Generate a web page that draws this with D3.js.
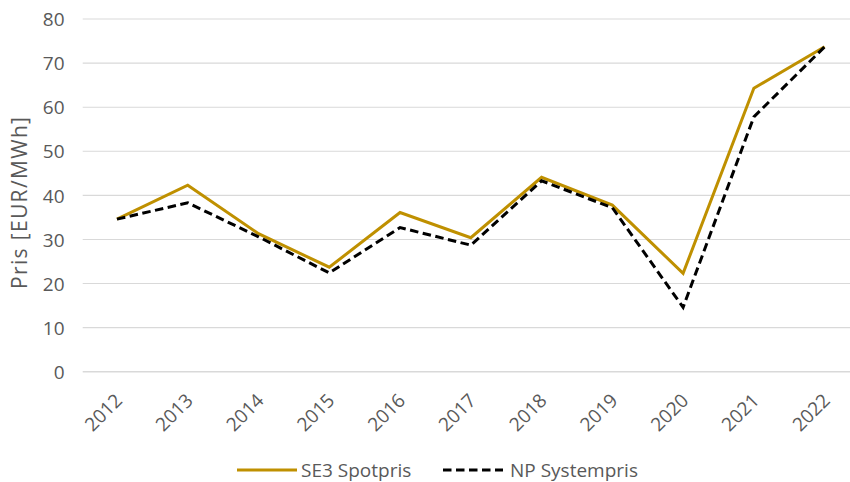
<!DOCTYPE html>
<html>
<head>
<meta charset="utf-8">
<script src="https://cdn.jsdelivr.net/npm/d3@7"></script>
<style>
  html, body { margin: 0; padding: 0; background: #fff; }
  svg { display: block; }
  text { font-family: "Open Sans", Lato, sans-serif; fill: #595959; }
</style>
</head>
<body>
<svg id="chart" width="850" height="482"></svg>
<script>
// Annual average electricity prices, EUR/MWh
const years = ["2012", "2013", "2014", "2015", "2016", "2017", "2018", "2019", "2020", "2021", "2022"];
const se3Spot = [34.6, 42.3, 31.3, 23.7, 36.1, 30.4, 44.1, 37.8, 22.3, 64.3, 73.7];
const npSystem = [34.6, 38.3, 30.6, 22.4, 32.7, 28.7, 43.3, 37.2, 14.6, 57.8, 73.7];
const yTicks = [0, 10, 20, 30, 40, 50, 60, 70, 80];

const seriesNames = ["SE3 Spotpris", "NP Systempris"];
const seriesColors = ["#BF9000", "#000000"];
const dashPattern = "8.5,4.5";
const fontSize = "19px";

const svg = d3.select("#chart");

const plot = { left: 81.6, right: 860, top: 19, bottom: 371.7 };

const x = d3.scalePoint()
  .domain(years)
  .range([plot.left, plot.right])
  .padding(0.5);

const y = d3.scaleLinear()
  .domain([0, 80])
  .range([plot.bottom, plot.top]);

// Horizontal gridlines
svg.append("g")
  .selectAll("line")
  .data(yTicks)
  .join("line")
  .attr("x1", 82.7)
  .attr("x2", 850)
  .attr("y1", d => y(d))
  .attr("y2", d => y(d))
  .attr("stroke", "#d9d9d9")
  .attr("stroke-width", d => d === 0 ? 1.5 : 1.1);

// Y axis tick labels
const yAxis = d3.axisLeft(y).tickValues(yTicks).tickSize(0).tickPadding(0);
const yG = svg.append("g")
  .attr("transform", "translate(64.5,0)")
  .call(yAxis);
yG.select(".domain").remove();
yG.selectAll("text")
  .attr("font-size", fontSize)
  .attr("fill", "#595959")
  .attr("dy", "0.35em")
  .style("font-family", "'Open Sans', Lato, sans-serif");

// X axis tick labels, rotated
const xAxis = d3.axisBottom(x).tickSize(0).tickPadding(0);
const xG = svg.append("g")
  .attr("transform", `translate(0,${plot.bottom})`)
  .call(xAxis);
xG.select(".domain").remove();
xG.selectAll("text")
  .attr("font-size", fontSize)
  .attr("fill", "#595959")
  .style("font-family", "'Open Sans', Lato, sans-serif")
  .attr("text-anchor", "end")
  .attr("dy", null)
  .attr("y", 0)
  .attr("transform", "translate(6,30) rotate(-45)");

// Y axis title
svg.append("text")
  .attr("transform", "translate(27,203) rotate(-90)")
  .attr("text-anchor", "middle")
  .attr("font-size", "21px")
  .attr("textLength", 172)
  .attr("lengthAdjust", "spacing")
  .text("Pris [EUR/MWh]");

const line = d3.line()
  .x((d, i) => x(years[i]))
  .y(d => y(d));

svg.append("path")
  .datum(se3Spot)
  .attr("d", line)
  .attr("fill", "none")
  .attr("stroke", seriesColors[0])
  .attr("stroke-width", 3)
  .attr("stroke-linejoin", "miter");

svg.append("path")
  .datum(npSystem)
  .attr("d", line)
  .attr("fill", "none")
  .attr("stroke", seriesColors[1])
  .attr("stroke-width", 3)
  .attr("stroke-dasharray", dashPattern);

// Legend
const legendY = 470;
const legend = svg.append("g");
const legendItems = [
  { x: 237, textX: 301, name: seriesNames[0], color: seriesColors[0], dash: null },
  { x: 443, textX: 510, name: seriesNames[1], color: seriesColors[1], dash: dashPattern }
];
legendItems.forEach(item => {
  legend.append("line")
    .attr("x1", item.x).attr("x2", item.x + 60)
    .attr("y1", legendY).attr("y2", legendY)
    .attr("stroke", item.color)
    .attr("stroke-width", 3)
    .attr("stroke-dasharray", item.dash);
  legend.append("text")
    .attr("x", item.textX)
    .attr("y", legendY)
    .attr("dy", "0.35em")
    .attr("font-size", fontSize)
    .text(item.name);
});
</script>
</body>
</html>
